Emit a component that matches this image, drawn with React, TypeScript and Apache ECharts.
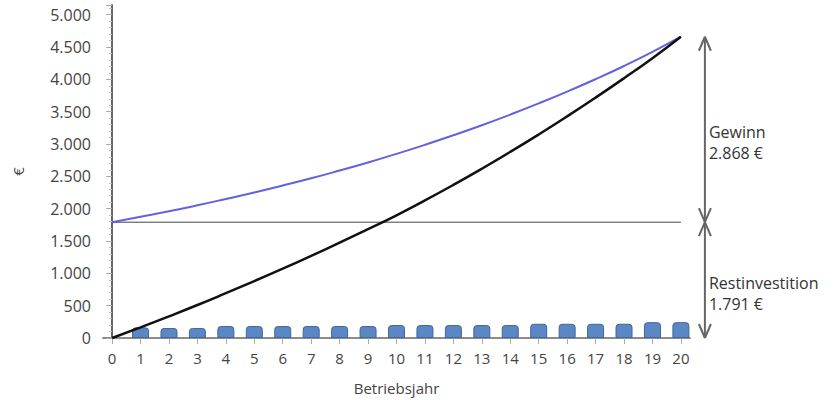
import React, { useEffect, useRef } from "react";
import * as echarts from "echarts";

// ---- data ----
const years = [0, 1, 2, 3, 4, 5, 6, 7, 8, 9, 10, 11, 12, 13, 14, 15, 16, 17, 18, 19, 20];
const barYears = [1, 2, 3, 4, 5, 6, 7, 8, 9, 10, 11, 12, 13, 14, 15, 16, 17, 18, 19, 20];
const savings = [165, 155, 155, 185, 185, 185, 185, 185, 185, 200, 200, 200, 200, 200, 220, 220, 220, 220, 245, 245];
const blueValues = [1791, 1875, 1960, 2052, 2150, 2250, 2358, 2470, 2590, 2715, 2848, 2988, 3135, 3290, 3455, 3628, 3810, 4003, 4207, 4425, 4659];
const blackValues = [0, 165, 335, 510, 693, 880, 1072, 1270, 1474, 1683, 1898, 2128, 2368, 2618, 2878, 3148, 3428, 3718, 4018, 4328, 4659];
const restInvest = 1791;
const gewinn = 2868;
const yTicksMax = 5000;

const FONT = "'Open Sans', 'Noto Sans', sans-serif";

const fmt = (v: number) => String(Math.round(v)).replace(/\B(?=(\d{3})+(?!\d))/g, ".");

export default function App() {
  const ref = useRef<HTMLDivElement>(null);

  useEffect(() => {
    if (!ref.current) return;
    const chart = echarts.init(ref.current, undefined, { renderer: "svg" });
    const lastYear = years[years.length - 1];

    const option: any = {
      animation: false,
      backgroundColor: "#ffffff",
      grid: { left: 103, right: 144, top: 5, bottom: 61.5, containLabel: false },
      xAxis: {
        type: "value",
        min: -0.32,
        max: 20.32,
        splitLine: { show: false },
        axisLine: { show: true, onZero: true, lineStyle: { color: "#8c8c8c", width: 2 } },
        axisTick: { show: true, customValues: years, length: 6, lineStyle: { color: "#aaaaaa", width: 1 } },
        axisLabel: { customValues: years, margin: 12, fontSize: 15, color: "#444444", fontFamily: FONT },
        name: "Betriebsjahr",
        nameLocation: "middle",
        nameGap: 42,
        nameTextStyle: { fontSize: 15, color: "#444444", fontFamily: FONT },
      },
      yAxis: {
        type: "value",
        min: 0,
        max: 5150,
        interval: 500,
        splitLine: { show: false },
        axisLine: { show: true, lineStyle: { color: "#666666", width: 2 } },
        axisTick: { show: true, length: 6, lineStyle: { color: "#aaaaaa", width: 1 } },
        minorTick: { show: true, splitNumber: 5, length: 3, lineStyle: { color: "#bbbbbb", width: 1 } },
        axisLabel: {
          showMaxLabel: false,
          formatter: (v: number) => (v > yTicksMax ? "" : fmt(v)),
          margin: 12,
          fontSize: 16,
          color: "#444444",
          fontFamily: FONT,
        },
        name: "€",
        nameLocation: "middle",
        nameRotate: 90,
        nameGap: 78,
        nameTextStyle: { fontSize: 15, color: "#444444", fontFamily: FONT },
      },
      series: [
        {
          type: "bar",
          data: barYears.map((y, i) => [y, savings[i]]),
          barWidth: 17,
          itemStyle: { color: "#5b87c5", borderColor: "#3f6799", borderWidth: 1, borderRadius: [3, 3, 0, 0] },
          z: 1,
        },
        {
          type: "line",
          data: [
            [years[0], restInvest],
            [lastYear, restInvest],
          ],
          symbol: "none",
          lineStyle: { color: "#444444", width: 1 },
          z: 2,
        },
        {
          type: "line",
          data: years.map((y, i) => [y, blueValues[i]]),
          smooth: true,
          symbol: "none",
          lineStyle: { color: "#6262e0", width: 2 },
          z: 3,
        },
        {
          type: "line",
          data: years.map((y, i) => [y, blackValues[i]]),
          smooth: true,
          symbol: "none",
          lineStyle: { color: "#111111", width: 2.5 },
          z: 4,
        },
        {
          type: "custom",
          clip: false,
          silent: true,
          data: [[lastYear, 0, restInvest, restInvest + gewinn]],
          encode: { x: 0, y: [1, 2, 3] },
          renderItem: (params: any, api: any) => {
            const xr = api.coord([api.value(0), 0])[0] + 24;
            const y0 = api.coord([api.value(0), api.value(1)])[1];
            const y1 = api.coord([api.value(0), api.value(2)])[1];
            const y2 = api.coord([api.value(0), api.value(3)])[1];
            const st = { stroke: "#666666", lineWidth: 2 };
            const head = (y: number, dir: number) => [
              { type: "line", shape: { x1: xr, y1: y, x2: xr - 6, y2: y + dir * 14 }, style: st },
              { type: "line", shape: { x1: xr, y1: y, x2: xr + 6, y2: y + dir * 14 }, style: st },
            ];
            const txt = (t: string, y: number) => ({
              type: "text",
              x: xr + 4,
              y,
              style: {
                text: t,
                fill: "#333333",
                fontSize: 16,
                fontFamily: FONT,
                lineHeight: 21,
                align: "left",
                verticalAlign: "top",
              },
            });
            return {
              type: "group",
              children: [
                { type: "line", shape: { x1: xr, y1: y2, x2: xr, y2: y0 }, style: st },
                ...head(y2, 1),
                ...head(y1, -1),
                ...head(y1, 1),
                ...head(y0, -1),
                txt("Gewinn\n" + fmt(api.value(3) - api.value(2)) + " €", (y1 + y2) / 2 - 8),
                txt("Restinvestition\n" + fmt(api.value(2) - api.value(1)) + " €", (y0 + y1) / 2 - 8),
              ],
            };
          },
          z: 5,
        },
      ],
    };

    chart.setOption(option);
    return () => chart.dispose();
  }, []);

  return (
    <div
      ref={ref}
      style={{ position: "fixed", left: 0, top: 0, width: 834, height: 400, background: "#fff" }}
    />
  );
}
